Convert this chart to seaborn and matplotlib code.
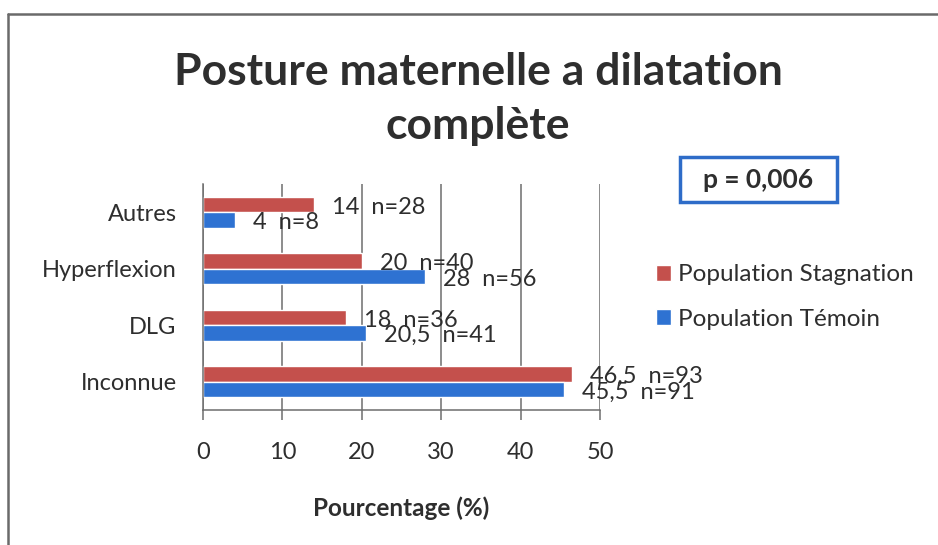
import matplotlib
matplotlib.use("Agg")
import matplotlib.pyplot as plt
from matplotlib.patches import Rectangle
from matplotlib.lines import Line2D
import seaborn as sns
import pandas as pd

categories = ["Autres", "Hyperflexion", "DLG", "Inconnue"]
stagnation = [14, 20, 18, 46.5]
temoin = [4, 28, 20.5, 45.5]
n_stagnation = [28, 40, 36, 93]
n_temoin = [8, 56, 41, 91]
series = ["Population Stagnation", "Population Témoin"]
x_ticks = [0, 10, 20, 30, 40, 50]

df = pd.DataFrame({
    "categorie": categories * 2,
    "pourcentage": stagnation + temoin,
    "population": [series[0]] * 4 + [series[1]] * 4,
})

sns.set_style("white")
plt.rcParams["font.family"] = ["Lato", "DejaVu Sans"]
txt = "#2e2e2e"

fig = plt.figure(figsize=(9.38, 5.45), dpi=100)
ax = fig.add_axes([203/938, 1-410/545, 397/938, 226/545])

sns.barplot(data=df, y="categorie", x="pourcentage", hue="population",
            order=categories, hue_order=series, orient="h",
            palette=["#C4504C", "#2E72D2"], width=0.55, errorbar=None,
            saturation=1, ax=ax)

ax.set_xlim(0, 50)
ax.set_xticks(x_ticks)
ax.xaxis.grid(True, color="#6e6e6e", lw=1.1)
ax.set_axisbelow(True)
for s in ["top", "right"]:
    ax.spines[s].set_visible(False)
for s in ["left", "bottom"]:
    ax.spines[s].set_color("#6e6e6e")
    ax.spines[s].set_linewidth(1.1)
ax.tick_params(axis="x", length=7, width=1.1, color="#6e6e6e", pad=16,
               labelsize=17, labelcolor=txt, direction="out", bottom=True)
ax.tick_params(axis="y", length=0, pad=19, labelsize=17, labelcolor=txt)
ax.set_ylabel("")
ax.set_xlabel("Pourcentage (%)", fontsize=17.5, fontweight="bold", color=txt, labelpad=24)

def fmt(v):
    s = ("%g" % v).replace(".", ",")
    return s

# labels sit a little below the bar centre in the original
lab_s = [f"{fmt(v)}  n={n}" for v, n in zip(stagnation, n_stagnation)]
lab_t = [f"{fmt(v)}  n={n}" for v, n in zip(temoin, n_temoin)]
for cont, labs in zip(ax.containers, [lab_s, lab_t]):
    for t in ax.bar_label(cont, labels=labs, padding=13, fontsize=17, color=txt):
        t.xyann = (t.xyann[0], t.xyann[1] - 2)

handles, labels = ax.get_legend_handles_labels()
ax.legend(handles, labels, loc="center left", bbox_to_anchor=(644/938, 1-297/545),
          bbox_transform=fig.transFigure, frameon=False, fontsize=17.5,
          handlelength=0.6, handleheight=0.6, handletextpad=0.3,
          labelspacing=0.95, borderpad=0, labelcolor=txt)

fig.text(478/938, 1-99/545, "Posture maternelle a dilatation\ncomplète",
         ha="center", va="center", fontsize=32, fontweight="bold", color=txt,
         linespacing=1.45)

fig.add_artist(Rectangle((680/938, 1-202/545), 157/938, 45/545,
                         transform=fig.transFigure, fill=False,
                         edgecolor="#2E6CC8", lw=2.5))
fig.text(758/938, 1-180/545, "p = 0,006", ha="center", va="center",
         fontsize=19, fontweight="bold", color=txt)

fig.add_artist(Line2D([8/938, 1], [1-14/545, 1-14/545], transform=fig.transFigure,
                      color="#6a6a6a", lw=1.8))
fig.add_artist(Line2D([8/938, 8/938], [1-14/545, 0], transform=fig.transFigure,
                      color="#6a6a6a", lw=1.8))

fig.savefig("out.png", dpi=100)
